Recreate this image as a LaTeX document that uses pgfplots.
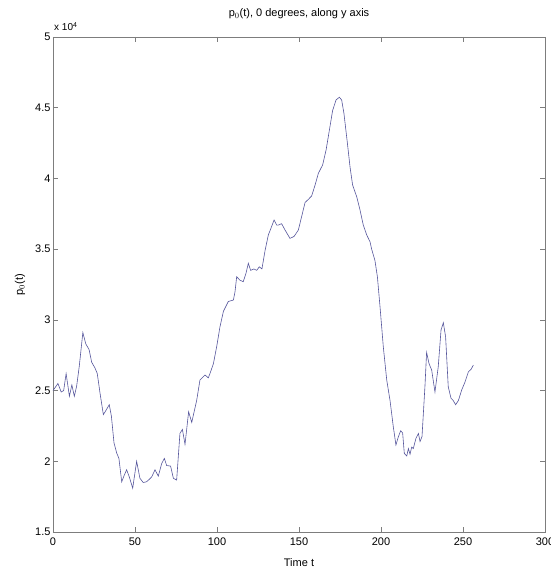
\documentclass[border=0pt]{standalone}
\usepackage{pgfplots}
\pgfplotsset{compat=1.18}
\usepackage{fontspec}
\setmainfont{Liberation Sans}
\definecolor{trace}{RGB}{85,85,155}
\definecolor{frame}{RGB}{125,125,125}

\begin{document}
\begin{tikzpicture}
\begin{axis}[
    scale only axis,
    width=492pt, height=495pt,
    xmin=0, xmax=300, ymin=1.5, ymax=5,
    xtick={0,50,...,300},
    ytick={1.5,2,...,5},
    tick pos=both, tick align=inside,
    major tick length=5pt,
    axis line style={frame, line width=0.8pt},
    every tick/.style={frame, line width=0.6pt},
    font=\fontsize{11}{13}\selectfont,
    /pgf/number format/assume math mode=true,
    xticklabel style={yshift=-2pt},
    yticklabel style={xshift=1pt},
    title={p$_0$(t), 0 degrees, along y axis},
    title style={at={(axis description cs:0.5,1)}, anchor=south, inner sep=0pt, yshift=12pt},
    xlabel={Time t},
    xlabel style={at={(axis description cs:0.5,0)}, anchor=north, inner sep=0pt, yshift=-26pt},
    ylabel={p$_0$(t)},
    ylabel style={at={(axis description cs:-0.067,0.5)}, anchor=center, inner sep=0pt},
    clip=false,
]
\addplot[trace, line width=0.6pt] coordinates {
(0,2.50) (1.2,2.52) (3,2.55) (5,2.49) (6.5,2.50) (8,2.62) (10,2.46) (11.5,2.54)
(13,2.46) (14.4,2.53) (16,2.67) (18.2,2.91) (20,2.83) (22,2.79) (23.6,2.70)
(25.6,2.66) (27,2.62) (28.7,2.48) (30.7,2.33) (32.3,2.36) (34.3,2.40) (35.6,2.32)
(37.2,2.13) (38.8,2.06) (40.2,2.02) (41.9,1.855) (43.4,1.90) (44.9,1.94) (46.5,1.89)
(48.6,1.81) (51,2.00) (53,1.88) (55,1.85) (57,1.855) (58.5,1.87) (60.2,1.89)
(62.2,1.94) (64.2,1.895) (66.3,1.985) (67.9,2.02) (69.3,1.97) (71.7,1.966)
(73.4,1.88) (75.4,1.867) (77.4,2.197) (78.9,2.225) (80.5,2.12) (82.7,2.35)
(84.6,2.275) (87.6,2.43) (89.6,2.574) (92.7,2.61) (94.7,2.59) (95.7,2.62)
(97.8,2.69) (99.8,2.81) (101.8,2.95) (103.9,3.06) (106.9,3.13) (110,3.14)
(111,3.20) (112,3.305) (114,3.28) (116,3.27) (117.7,3.33) (119.1,3.40)
(120.5,3.35) (122.5,3.36) (124.2,3.35) (125.8,3.375) (127.4,3.36) (129.3,3.49)
(131.3,3.60) (133.3,3.66) (134.8,3.706) (136.4,3.67) (137.4,3.67) (139.4,3.68)
(141.5,3.635) (144.5,3.576) (147,3.59) (149.6,3.635) (151.6,3.73) (153.7,3.83)
(155.7,3.852) (157.7,3.876) (159.8,3.953) (161.8,4.036) (164.4,4.095) (166.5,4.20)
(168.5,4.34) (170.5,4.48) (172.6,4.555) (174.6,4.574) (176,4.555) (177.4,4.46)
(179.5,4.25) (181.1,4.083) (182.7,3.953) (185.2,3.87) (187.2,3.777) (189.2,3.67)
(191.3,3.60) (193.3,3.552) (194.3,3.50) (196.3,3.42) (197.8,3.305) (199.4,3.093)
(201.4,2.81) (203.5,2.574) (205.5,2.43) (207.5,2.244) (209.1,2.115) (210.6,2.174)
(212,2.216) (213.2,2.20) (214.2,2.056) (215.7,2.037) (216.7,2.09) (217.7,2.05)
(218.7,2.10) (219.7,2.09) (221.3,2.162) (222.8,2.197) (223.8,2.14) (225,2.174)
(226.8,2.53) (227.8,2.77) (229.3,2.69) (230.9,2.645) (232.9,2.49) (234.9,2.668)
(236.6,2.928) (238,2.98) (239.4,2.88) (241,2.527) (242.7,2.445) (244,2.43)
(245.5,2.40) (247.2,2.43) (249.2,2.504) (251.2,2.56) (253.3,2.633) (254.9,2.65)
(256.3,2.68)
};
\node[anchor=base west, inner sep=0pt, font=\fontsize{10}{12}\selectfont]
    at (axis description cs:0,1) [xshift=1pt, yshift=6pt] {x 10\textsuperscript{4}};
\end{axis}
\pgfresetboundingbox
\path[use as bounding box] ([xshift=-53pt,yshift=-38pt]current axis.south west)
    rectangle ([xshift=5pt,yshift=37pt]current axis.north east);
\end{tikzpicture}
\end{document}
